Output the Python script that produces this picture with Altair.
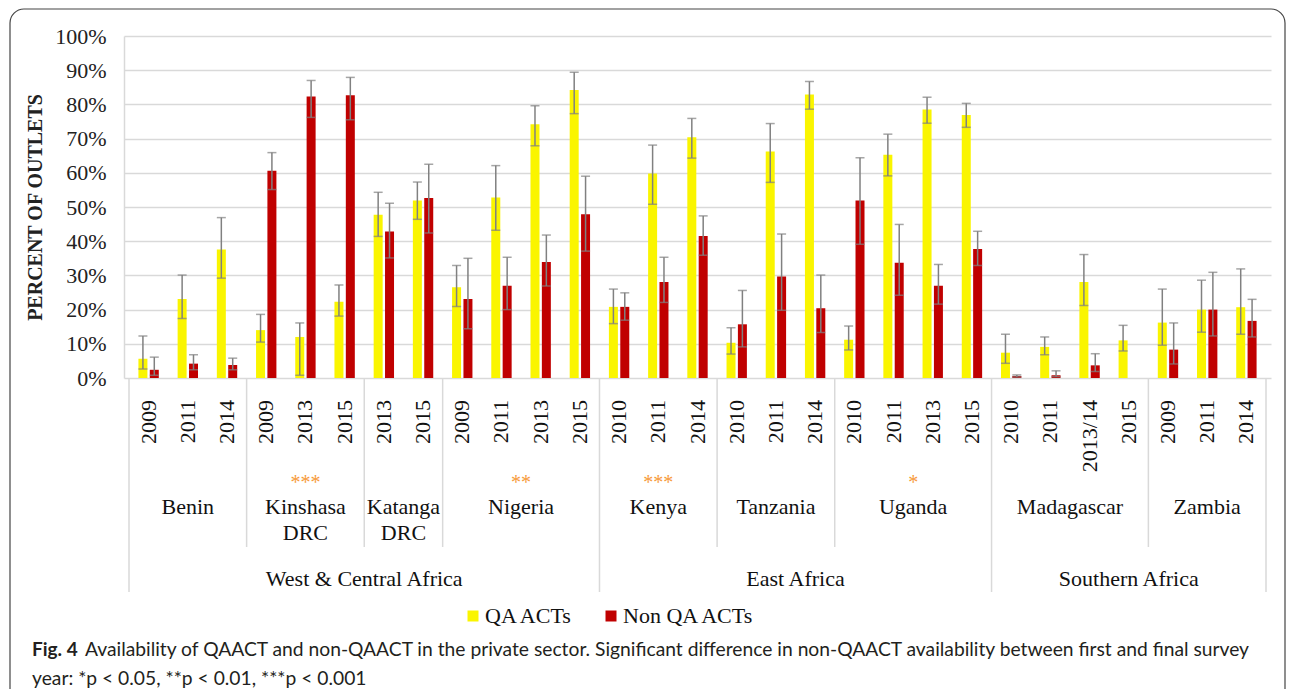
import altair as alt
import pandas as pd

# ---------------- data ----------------
countries = ["Benin", "Kinshasa\nDRC", "Katanga\nDRC", "Nigeria", "Kenya",
             "Tanzania", "Uganda", "Madagascar", "Zambia"]
country_sizes = [3, 3, 2, 4, 3, 3, 4, 4, 3]
country_stars = ["", "***", "", "**", "***", "", "*", "", ""]
regions = ["West & Central Africa", "East Africa", "Southern Africa"]
region_sizes = [4, 3, 2]  # number of countries in each region

years = ["2009", "2011", "2014",
         "2009", "2013", "2015",
         "2013", "2015",
         "2009", "2011", "2013", "2015",
         "2010", "2011", "2014",
         "2010", "2011", "2014",
         "2010", "2011", "2013", "2015",
         "2010", "2011", "2013/14", "2015",
         "2009", "2011", "2014"]

qa = [5.6, 23.1, 37.6, 14.0, 12.0, 22.3, 47.7, 51.9, 26.5, 52.8, 74.2, 84.2,
      20.8, 59.8, 70.4, 10.3, 66.2, 82.9, 11.2, 65.3, 78.5, 76.9,
      7.4, 9.1, 28.1, 11.0, 16.2, 20.0, 20.7]
qa_hi = [12.3, 30.1, 46.9, 18.6, 16.1, 27.2, 54.3, 57.3, 32.9, 62.1, 79.6, 89.4,
         26.0, 68.1, 75.9, 14.7, 74.4, 86.7, 15.2, 71.3, 82.1, 80.3,
         12.8, 12.0, 36.1, 15.4, 26.0, 28.6, 31.9]
qa_lo = [2.6, 17.4, 29.2, 10.5, 0.8, 18.1, 41.4, 46.4, 20.9, 43.2, 67.9, 77.3,
         15.9, 50.8, 64.3, 7.0, 57.2, 78.6, 8.2, 59.1, 74.5, 73.3,
         4.3, 6.8, 21.2, 7.9, 9.6, 13.4, 12.8]
non = [2.4, 4.2, 3.8, 60.6, 82.3, 82.7, 42.8, 52.6, 23.1, 27.0, 33.9, 47.9,
       20.8, 28.1, 41.5, 15.7, 29.7, 20.4, 51.9, 33.7, 27.0, 37.7,
       0.6, 0.8, 3.7, None, 8.3, 20.0, 16.7]
non_hi = [6.1, 6.8, 5.8, 65.9, 87.0, 87.9, 51.1, 62.5, 35.0, 35.3, 41.8, 59.0,
          24.9, 35.3, 47.4, 25.6, 42.1, 30.1, 64.4, 44.9, 33.2, 42.9,
          0.9, 2.1, 7.1, None, 16.1, 30.9, 23.0]
non_lo = [0.8, 2.4, 2.4, 55.1, 76.2, 75.5, 35.1, 42.4, 14.4, 20.0, 26.9, 37.1,
          16.9, 22.1, 35.9, 9.1, 19.8, 13.3, 39.1, 24.2, 21.6, 32.9,
          0.3, 0.4, 1.9, None, 4.1, 12.3, 12.0]

series = ["QA ACTs", "Non QA ACTs"]
colors = ["#FAF500", "#C00000"]

caption_bold = "Fig. 4"
caption_1 = ("Availability of QAACT and non-QAACT in the private sector. Significant "
             "difference in non-QAACT availability between first and final survey")
caption_2 = "year: *p < 0.05, **p < 0.01, ***p < 0.001"

# ---------------- tables ----------------
n = len(years)
OFF = 0.145
rows = []
for i in range(n):
    for s, vals, his, los, off in [(series[0], qa, qa_hi, qa_lo, -OFF),
                                   (series[1], non, non_hi, non_lo, OFF)]:
        if vals[i] is None:
            continue
        rows.append({"pos": i + 0.5 + off, "series": s, "value": vals[i],
                     "hi": his[i], "lo": los[i]})
bars_df = pd.DataFrame(rows)

year_df = pd.DataFrame({"pos": [i + 0.5 for i in range(n)], "label": years})

starts = [sum(country_sizes[:k]) for k in range(len(countries))]
country_df = pd.DataFrame({
    "center": [s + c / 2 for s, c in zip(starts, country_sizes)],
    "name": countries})
star_df = pd.DataFrame({
    "center": [s + c / 2 for s, c, t in zip(starts, country_sizes, country_stars) if t],
    "stars": [t for t in country_stars if t]})

reg_bounds = [0]
ci = 0
for rs in region_sizes:
    reg_bounds.append(reg_bounds[-1] + sum(country_sizes[ci:ci + rs]))
    ci += rs
region_df = pd.DataFrame({
    "center": [(a + b) / 2 for a, b in zip(reg_bounds[:-1], reg_bounds[1:])],
    "name": regions})
region_sep_df = pd.DataFrame({"pos": reg_bounds})
country_bounds = [s for s in starts[1:] if s not in reg_bounds]
country_sep_df = pd.DataFrame({"pos": country_bounds})

# ---------------- chart ----------------
W, H = 1147, 342
SERIF = "Liberation Serif"
xs = alt.Scale(domain=[0, n], nice=False, zero=False)
ys = alt.Scale(domain=[0, 100], nice=False)
GRID = "#d9d9d9"
ERR = "#808080"

yaxis = alt.Axis(
    values=list(range(0, 101, 10)), labelExpr="datum.value + '%'",
    labelOverlap=False, title="PERCENT OF OUTLETS", grid=True,
    gridColor=GRID, gridWidth=1.5,
    domainColor=GRID, domainWidth=1.5, ticks=False,
    labelFont=SERIF, labelFontSize=22, labelColor="#222222", labelPadding=18,
    titleFont=SERIF, titleFontSize=20, titleFontWeight="bold", titleColor="#222222",
    titleX=-89, titleY=171, titleAngle=270, titleAlign="center",
    titleBaseline="middle")

bars = alt.Chart(bars_df).mark_bar(size=9, orient="vertical").encode(
    x=alt.X("pos:Q", scale=xs, axis=None),
    y=alt.Y("value:Q", scale=ys, stack=None, axis=yaxis),
    color=alt.Color("series:N", scale=alt.Scale(domain=series, range=colors),
                    legend=alt.Legend(orient="none", legendX=338, legendY=569,
                                      direction="horizontal", title=None,
                                      symbolType="square", symbolSize=121,
                                      symbolStrokeWidth=0,
                                      labelFont=SERIF, labelFontSize=22,
                                      labelColor="#111111", labelOffset=1,
                                      columnPadding=26)),
)

err = alt.Chart(bars_df).mark_rule(color=ERR, strokeWidth=1.5).encode(
    x=alt.X("pos:Q", scale=xs, axis=None),
    y=alt.Y("lo:Q", scale=ys, axis=yaxis), y2="hi:Q")
cap_hi = alt.Chart(bars_df).mark_tick(orient="horizontal", size=9, thickness=1.5,
                                      color=ERR).encode(
    x=alt.X("pos:Q", scale=xs, axis=None), y=alt.Y("hi:Q", scale=ys, axis=yaxis))
cap_lo = alt.Chart(bars_df).mark_tick(orient="horizontal", size=9, thickness=1.5,
                                      color=ERR).encode(
    x=alt.X("pos:Q", scale=xs, axis=None), y=alt.Y("lo:Q", scale=ys, axis=yaxis))

year_txt = alt.Chart(year_df).mark_text(
    angle=270, align="right", baseline="middle", font=SERIF, fontSize=22,
    color="#111111").encode(x=alt.X("pos:Q", scale=xs, axis=None), y=alt.value(364),
                            text="label:N")

star_txt = alt.Chart(star_df).mark_text(
    align="center", baseline="alphabetic", font=SERIF, fontSize=20,
    color="#F79A3A").encode(x=alt.X("center:Q", scale=xs, axis=None), y=alt.value(453),
                            text="stars:N")

country_txt = alt.Chart(country_df).mark_text(
    align="center", baseline="alphabetic", font=SERIF, fontSize=22,
    lineBreak="\n", lineHeight=26, color="#111111").encode(
    x=alt.X("center:Q", scale=xs, axis=None), y=alt.value(478), text="name:N")

region_txt = alt.Chart(region_df).mark_text(
    align="center", baseline="alphabetic", font=SERIF, fontSize=22,
    color="#111111").encode(x=alt.X("center:Q", scale=xs, axis=None), y=alt.value(550),
                            text="name:N")

csep = alt.Chart(country_sep_df).mark_rule(color=GRID, strokeWidth=1.5).encode(
    x=alt.X("pos:Q", scale=xs, axis=None), y=alt.value(H), y2=alt.value(511))
rsep = alt.Chart(region_sep_df).mark_rule(color=GRID, strokeWidth=1.5).encode(
    x=alt.X("pos:Q", scale=xs, axis=None), y=alt.value(H), y2=alt.value(556))

# decorative figure frame (rounded corners at the top)
one = pd.DataFrame({"a": [0]})
FR = "#444444"
L, R, T, RAD = -114, 1161, -27, 14
frame_top = alt.Chart(one).mark_rule(color=FR, strokeWidth=1.2).encode(
    x=alt.value(L + RAD), x2=alt.value(R - RAD), y=alt.value(T))
frame_left = alt.Chart(one).mark_rule(color=FR, strokeWidth=1.2).encode(
    x=alt.value(L), y=alt.value(T + RAD), y2=alt.value(700))
frame_right = alt.Chart(one).mark_rule(color=FR, strokeWidth=1.2).encode(
    x=alt.value(R), y=alt.value(T + RAD), y2=alt.value(700))
corner_l = alt.Chart(one).mark_arc(radius=RAD + 0.6, radius2=RAD - 0.6,
                                   color=FR).encode(
    x=alt.value(L + RAD), y=alt.value(T + RAD),
    theta=alt.value(4.712389), theta2=alt.value(6.283185))
corner_r = alt.Chart(one).mark_arc(radius=RAD + 0.6, radius2=RAD - 0.6,
                                   color=FR).encode(
    x=alt.value(R - RAD), y=alt.value(T + RAD),
    theta=alt.value(0.0), theta2=alt.value(1.570796))

cap_b = alt.Chart(pd.DataFrame({"t": [caption_bold]})).mark_text(
    align="left", baseline="middle", font="Lato", fontSize=19, fontWeight="bold",
    color="#231f20").encode(x=alt.value(-92), y=alt.value(614), text="t:N")
cap_1 = alt.Chart(pd.DataFrame({"t": [caption_1]})).mark_text(
    align="left", baseline="middle", font="Lato", fontSize=19.25,
    color="#231f20").encode(x=alt.value(-39), y=alt.value(614), text="t:N")
cap_2 = alt.Chart(pd.DataFrame({"t": [caption_2]})).mark_text(
    align="left", baseline="middle", font="Lato", fontSize=19.25,
    color="#231f20").encode(x=alt.value(-92), y=alt.value(643), text="t:N")

chart = alt.layer(
    bars, err, cap_hi, cap_lo, csep, rsep, year_txt, star_txt,
    country_txt, region_txt, frame_top, frame_left, frame_right,
    corner_l, corner_r, cap_b, cap_1, cap_2
).properties(
    width=W, height=H,
    autosize=alt.AutoSizeParams(type="none"),
    padding={"left": 116, "top": 28, "right": 16, "bottom": 311},
).configure_view(stroke=None)

chart.save("out.html", embed_options={"renderer": "svg", "actions": False})
